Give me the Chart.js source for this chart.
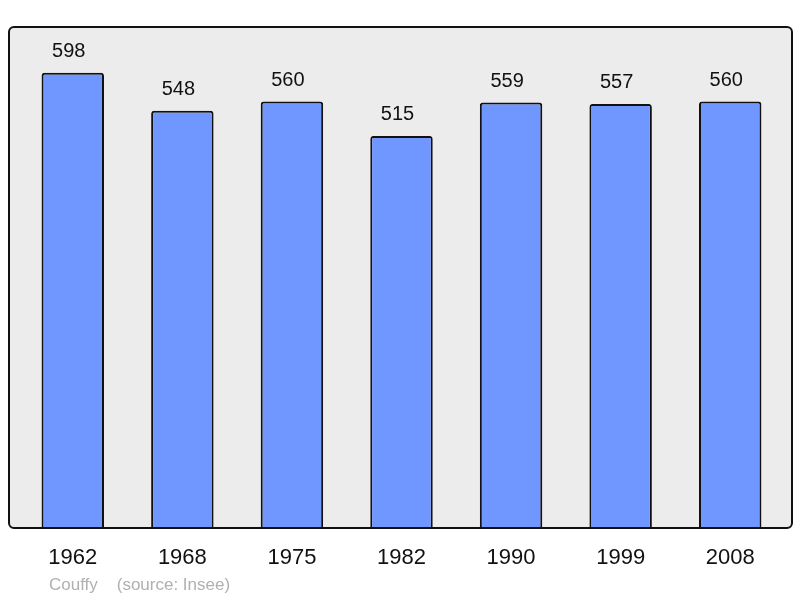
<!DOCTYPE html>
<html>
<head>
<meta charset="utf-8">
<script src="https://cdn.jsdelivr.net/npm/chart.js@4"></script>
<style>
html,body{margin:0;padding:0;background:#fff;}
#wrap{position:relative;width:800px;height:598px;}
#src{position:absolute;left:49px;top:575px;font:17px "Liberation Sans",Arial,sans-serif;color:#b0b0b0;white-space:pre;}
</style>
</head>
<body>
<div id="wrap">
<canvas id="c" width="800" height="598"></canvas>
<div id="src">Couffy    (source: Insee)</div>
</div>
<script>
const years = ["1962","1968","1975","1982","1990","1999","2008"];
const population = [598,548,560,515,559,557,560];

const boxPlugin = {
  id:'box',
  beforeDraw(chart){
    const ctx = chart.ctx;
    const x=9,y=27,w=783,h=501,r=5;
    ctx.save();
    ctx.beginPath();
    ctx.roundRect(x,y,w,h,r);
    ctx.fillStyle='#ececec';
    ctx.fill();
    ctx.restore();
  },
  afterDatasetsDraw(chart){
    const ctx = chart.ctx;
    const x=9,y=27,w=783,h=501,r=5;
    ctx.save();
    ctx.beginPath();
    ctx.roundRect(x,y,w,h,r);
    ctx.lineWidth=2;
    ctx.strokeStyle='#111';
    ctx.stroke();
    const meta = chart.getDatasetMeta(0);
    ctx.font='20px "Liberation Sans", Arial, sans-serif';
    ctx.fillStyle='#111';
    ctx.textAlign='center';
    ctx.textBaseline='middle';
    meta.data.forEach((bar,i)=>{
      ctx.fillText(String(population[i]), bar.x-4, bar.y-21);
    });
    ctx.restore();
  }
};

new Chart(document.getElementById('c'),{
  type:'bar',
  data:{labels:years,datasets:[{
    data:population,
    backgroundColor:'#7096ff',
    borderColor:'#111',
    borderWidth:2,
    borderRadius:3,
    borderSkipped:'bottom',
    barPercentage:0.57,
    categoryPercentage:1
  }]},
  options:{
    responsive:false,
    animation:false,
    devicePixelRatio:1,
    layout:{padding:{left:18,right:15,top:27,bottom:0}},
    plugins:{legend:{display:false},tooltip:{enabled:false}},
    scales:{
      x:{
        grid:{display:false},
        border:{display:false},
        ticks:{font:{family:'"Liberation Sans", Arial, sans-serif',size:22},color:'#111',padding:9},
        afterFit(s){s.height=70;}
      },
      y:{display:false,min:0,max:658}
    }
  },
  plugins:[boxPlugin]
});
</script>
</body>
</html>
